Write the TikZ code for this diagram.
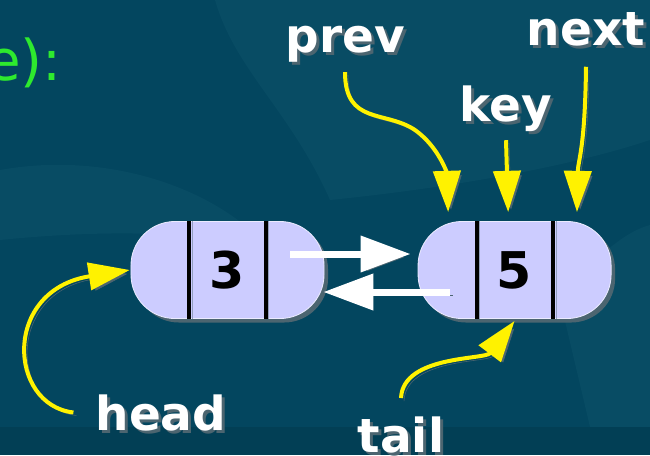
\documentclass[tikz,border=0pt]{standalone}
\usepackage{fontspec}
\setmainfont{DejaVu Sans}
\usetikzlibrary{arrows.meta}

\definecolor{bgdark}{HTML}{03465F}
\definecolor{bgleaf}{HTML}{084C64}
\definecolor{bgband}{HTML}{023F55}
\definecolor{shade}{HTML}{4C6570}
\definecolor{cellfill}{HTML}{CCCCFF}
\definecolor{hlgreen}{HTML}{2EEA2E}

\begin{document}
\begin{tikzpicture}[
  x=0.025cm, y=-0.025cm,
  cell/.style={rectangle, rounded corners=1.1cm, draw=white!60!cellfill, line width=0.6pt,
    fill=cellfill, minimum width=4.825cm, minimum height=2.425cm, inner sep=0pt,
    font=\bfseries\fontsize{36}{36}\selectfont,
    preaction={fill=shade, transform canvas={shift={(0.1cm,-0.1cm)}}}},
  divider/.style={line width=0.1cm, black,
    preaction={draw=shade!45!cellfill, transform canvas={shift={(0.08cm,0cm)}}}},
  tag/.style={font=\bfseries\fontsize{33.4}{34}\selectfont, text=white, inner sep=0pt, anchor=base},
  tagshadow/.style={tag, text=shade},
  link/.style={draw=white, line width=0.175cm, -{Triangle[length=1.25cm,width=0.875cm]},
    preaction={draw=shade, transform canvas={shift={(0.08cm,-0.08cm)}}}},
  pointer/.style={draw=yellow, line width=0.1cm, -{Triangle[length=1.03cm,width=0.68cm]},
    preaction={draw=shade, transform canvas={shift={(0.075cm,-0.075cm)}}}},
  node distance=7.175cm
]
% background
\useasboundingbox (0,0) rectangle (650,455);
\fill[bgdark] (0,0) rectangle (650,455);
\fill[bgleaf] (215,0) .. controls (235,70) and (290,110) .. (330,200)
  .. controls (430,190) and (560,170) .. (650,140) -- (650,0) -- cycle;
\fill[bgleaf] (0,170) .. controls (110,150) and (220,190) .. (270,250)
  .. controls (200,230) and (100,230) .. (0,240) -- cycle;
\fill[bgleaf] (560,300) .. controls (600,250) and (630,230) .. (650,225) -- (650,427) -- (590,427) -- cycle;
\fill[bgband] (0,427) rectangle (650,455);

\node[anchor=base east, inner sep=0pt, text=hlgreen, font=\fontsize{40}{40}\selectfont] (caption) at (62,80) {e):};

% the two list cells
\node[cell] (n3) at (227.5,270) {3};
\node[cell, right of=n3] (n5) {5};
\foreach \c in {n3,n5} {
  \draw[divider] ([xshift=-0.95cm]\c.north) -- ([xshift=-0.95cm]\c.south);
  \draw[divider] ([xshift=0.95cm]\c.north) -- ([xshift=0.95cm]\c.south);
}

\draw[link] ([xshift=-0.85cm,yshift=0.4cm]n3.east) -- ([xshift=-0.175cm,yshift=0.4cm]n5.west);
\draw[link] ([xshift=0.8cm,yshift=-0.55cm]n5.west) -- ([xshift=-0.03cm,yshift=-0.55cm]n3.east);

% field names
\node[tagshadow] (prev-sh) at ([shift={(0.075cm,-0.075cm)}]345,52) {prev};
\node[tag] (prev) at (345,52) {prev};
\node[tagshadow] (next-sh) at ([shift={(0.075cm,-0.075cm)}]586,45) {next};
\node[tag] (next) at (586,45) {next};
\node[tagshadow] (key-sh) at ([shift={(0.075cm,-0.075cm)}]506,121) {key};
\node[tag] (key) at (506,121) {key};
\node[tagshadow] (head-sh) at ([shift={(0.075cm,-0.075cm)}]161,430) {head};
\node[tag] (head) at (161,430) {head};
\node[tagshadow] (tail-sh) at ([shift={(0.075cm,-0.075cm)}]401,452) {tail};
\node[tag] (tail) at (401,452) {tail};

\draw[pointer] ([yshift=-0.25cm]prev.south) .. controls (345,125) and (385,110) .. (415,130)
  .. controls (440,148) and (447,175) .. ([xshift=-1.66cm,yshift=0.225cm]n5.north);
\draw[pointer] ([yshift=-0.22cm]key.south) -- ([xshift=-0.16cm,yshift=0.225cm]n5.north);
\draw[pointer] ([yshift=-0.52cm]next.south) .. controls (585,150) and (578,160) .. ([xshift=1.56cm,yshift=0.225cm]n5.north);
\draw[pointer] ([xshift=-0.55cm]head.west) .. controls (8,405) and (2,290) .. ([xshift=-0.02cm]n3.west);
\draw[pointer] ([yshift=0.45cm]tail.north) .. controls (403,355) and (485,360) .. ([yshift=-0.05cm]n5.south);
\end{tikzpicture}
\end{document}
